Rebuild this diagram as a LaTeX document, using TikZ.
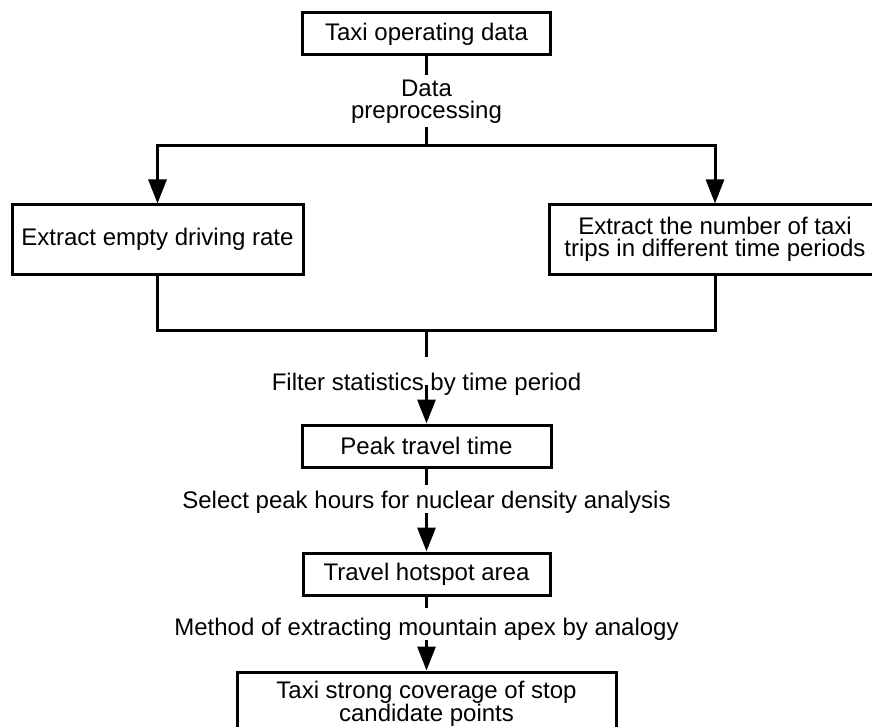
\documentclass[tikz,border=0pt]{standalone}
\usepackage{fontspec}
\setmainfont{Liberation Sans}
\usetikzlibrary{arrows.meta}
\begin{document}
\begin{tikzpicture}[x=1pt,y=-1pt,
  every node/.style={font=\fontsize{24}{22}\selectfont},
  box/.style={draw, line width=3pt, inner sep=0pt, align=center},
  lbl/.style={inner sep=0pt, align=center},
  conn/.style={line width=3pt},
  arr/.style={conn, -{Triangle[length=24pt,width=18pt]}}]
\useasboundingbox (0,0) rectangle (872,727);
\clip (0,0) rectangle (872,727);
\fill[white] (0,0) rectangle (872,727);

\node[box, minimum width=248pt, minimum height=42pt] (top) at (426.5,34) {Taxi operating data};
\node[box, minimum width=291pt, minimum height=69pt] (lbox) at (157.5,239.5) {Extract empty driving rate};
\node[box, minimum width=332pt, minimum height=69pt] (rbox) at (715,239.5) {Extract the number of taxi\\trips in different time periods};
\node[box, minimum width=249pt, minimum height=42pt] (peak) at (426.5,446) {Peak travel time};
\node[box, minimum width=247pt, minimum height=42pt] (hot) at (426.5,574) {Travel hotspot area};
\node[box, minimum width=379pt, minimum height=63pt] (cand) at (426.5,703.5) {Taxi strong coverage of stop\\candidate points};

\node[lbl, anchor=north] (dp) at (426.5,80) {Data\\preprocessing};
\node[lbl, anchor=base] (filt) at (426.5,390) {Filter statistics by time period};
\node[lbl, anchor=base] (sel) at (426.5,508) {Select peak hours for nuclear density analysis};
\node[lbl, anchor=base] (meth) at (426.5,635) {Method of extracting mountain apex by analogy};

\coordinate (d1) at (426.5,75);
\coordinate (d2) at (426.5,127);
\coordinate (jt) at (426.5,146);
\coordinate (bC) at (426.5,330);
\coordinate (f1) at (426.5,357);
\coordinate (f2) at (426.5,385);
\coordinate (s1) at (426.5,485);
\coordinate (s2) at (426.5,513);
\coordinate (m1) at (426.5,608);
\coordinate (m2) at (426.5,640);

\draw[conn] (top.south) -- (d1);
\draw[arr] (d2) -- (jt) -| (lbox.north);
\draw[arr] (jt) -| (rbox.north);
\draw[conn] (lbox.south) |- (bC);
\draw[conn] (rbox.south) |- (bC);
\draw[conn] (bC) -- (f1);
\draw[arr] (f2) -- (peak.north);
\draw[conn] (peak.south) -- (s1);
\draw[arr] (s2) -- (hot.north);
\draw[conn] (hot.south) -- (m1);
\draw[arr] (m2) -- (cand.north);
\end{tikzpicture}
\end{document}
